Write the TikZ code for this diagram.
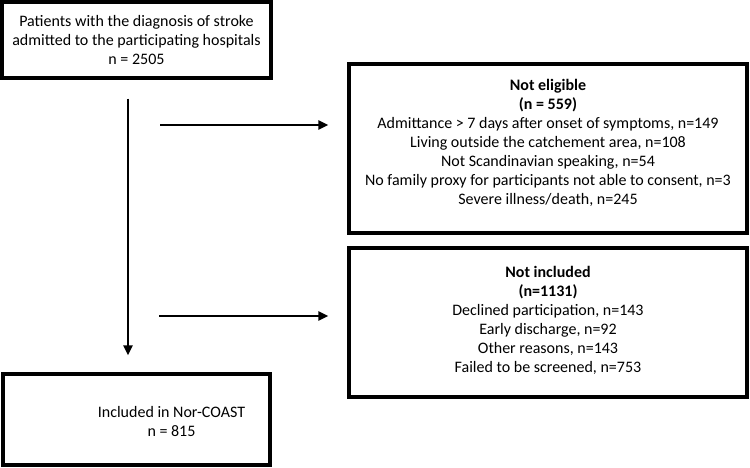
\documentclass[tikz,border=0pt]{standalone}
\usepackage{fontspec}
\setmainfont{Carlito}
\usepackage{tikz}
\usetikzlibrary{positioning,arrows.meta}

\begin{document}
\begin{tikzpicture}[x=1pt, y=-1pt,
        box/.style={draw, line width=3.2pt, rectangle, inner sep=0pt},
        txt/.style={align=center, inner sep=0pt, font=\fontsize{16}{19}\selectfont},
        arr/.style={line width=2.6pt, -{Triangle[length=10pt,width=9pt]}}]
        \useasboundingbox (0,0) rectangle (750,467);
        \node[box, minimum width=269pt, minimum height=76pt] (adm) at (136.5,40) {};
        \node[txt] (admtxt) at (adm.center) {Patients with the diagnosis of stroke\\admitted to the participating hospitals\\n = 2505};
        \node[box, minimum width=267pt, minimum height=91pt] (incl) at (136.5,419.5) {};
        \node[txt, xshift=35pt, yshift=-2pt] (incltxt) at (incl.center) {Included in Nor-COAST\\n = 815};
        \node[box, minimum width=398pt, minimum height=169pt] (elig) at (548,148.5) {};
        \node[txt, below=17pt of elig.north] (eligtxt) {\textbf{Not eligible}\\\textbf{(n = 559)}\\Admittance > 7 days after onset of symptoms, n=149\\Living outside the catchement area, n=108\\Not Scandinavian speaking, n=54\\No family proxy for participants not able to consent, n=3\\Severe illness/death, n=245};
        \node[box, minimum width=398pt, minimum height=149pt] (notinc) at (548,322.5) {};
        \node[txt, below=20pt of notinc.north] (notinctxt) {\textbf{Not included}\\\textbf{(n=1131)}\\Declined participation, n=143\\Early discharge, n=92\\Other reasons, n=143\\Failed to be screened, n=753};

        \coordinate (e1) at (160,125);
        \coordinate (e2) at (159,316);
        \draw[arr] ([xshift=-8.5pt,yshift=-19pt]adm.south) -- ([xshift=-8.5pt,yshift=17pt]incl.north);
        \draw[arr] (e1) -- ([xshift=-19pt]elig.west |- e1);
        \draw[arr] (e2) -- ([xshift=-19pt]notinc.west |- e2);
    \end{tikzpicture}
\end{document}
